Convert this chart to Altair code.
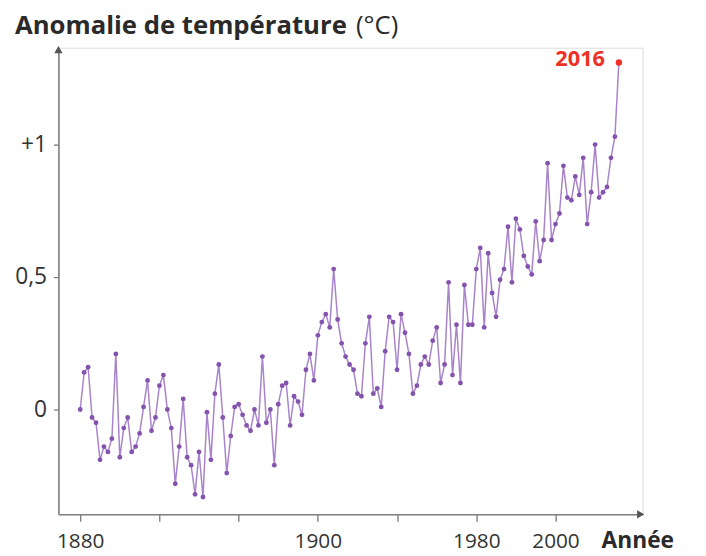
import altair as alt
import pandas as pd

years = list(range(1880, 2017))
anomalies = [
    0.00, 0.14, 0.16, -0.03, -0.05, -0.19, -0.14, -0.16, -0.11, 0.21,
    -0.18, -0.07, -0.03, -0.16, -0.14, -0.09, 0.01, 0.11, -0.08, -0.03,
    0.09, 0.13, 0.00, -0.07, -0.28, -0.14, 0.04, -0.18, -0.21, -0.32,
    -0.16, -0.33, -0.01, -0.19, 0.06, 0.17, -0.03, -0.24, -0.10, 0.01,
    0.02, -0.02, -0.06, -0.08, 0.00, -0.06, 0.20, -0.05, 0.00, -0.21,
    0.02, 0.09, 0.10, -0.06, 0.05, 0.03, -0.02, 0.15, 0.21, 0.11,
    0.28, 0.33, 0.36, 0.31, 0.53, 0.34, 0.25, 0.20, 0.17, 0.15,
    0.06, 0.05, 0.25, 0.35, 0.06, 0.08, 0.01, 0.22, 0.35, 0.33,
    0.15, 0.36, 0.29, 0.21, 0.06, 0.09, 0.17, 0.20, 0.17, 0.26,
    0.31, 0.10, 0.17, 0.48, 0.13, 0.32, 0.10, 0.47, 0.32, 0.32,
    0.53, 0.61, 0.31, 0.59, 0.44, 0.35, 0.49, 0.53, 0.69, 0.48,
    0.72, 0.68, 0.58, 0.54, 0.51, 0.71, 0.56, 0.64, 0.93, 0.64,
    0.70, 0.74, 0.92, 0.80, 0.79, 0.88, 0.81, 0.95, 0.70, 0.82,
    1.00, 0.80, 0.82, 0.84, 0.95, 1.03, 1.31,
]
tick_years = [1880, 1900, 1920, 1940, 1960, 1980, 2000]
tick_labels = ["1880", "", "", "1900", "", "1980", "2000"]
y_ticks = [0, 0.5, 1]
y_labels = ["0", "0,5", "+1"]
highlight_year = 2016

df = pd.DataFrame({"year": years, "value": anomalies})
df_hi = df[df["year"] == highlight_year].assign(label=str(highlight_year))
df_rest = df[df["year"] != highlight_year]

x_label_expr = " : ".join(
    f"datum.value == {v} ? '{t}'" for v, t in zip(tick_years, tick_labels)
) + " : ''"
y_label_expr = " : ".join(
    f"datum.value == {v} ? '{t}'" for v, t in zip(y_ticks, y_labels)
) + " : ''"

W, H = 591, 472
AXIS_COLOR = "#808080"
TEXT_COLOR = "#333333"
LINE_COLOR = "#a884ca"
DOT_COLOR = "#8453ad"
RED = "#ee3124"

x_enc = alt.X(
    "year:Q",
    scale=alt.Scale(domain=[1874.5, 2022.0], nice=False, zero=False),
    axis=alt.Axis(
        values=tick_years,
        labelExpr=x_label_expr,
        grid=False,
        domainColor=AXIS_COLOR,
        domainWidth=1.6,
        tickColor=AXIS_COLOR,
        tickWidth=1.4,
        tickSize=7,
        labelFont="Open Sans",
        labelFontSize=21,
        labelColor=TEXT_COLOR,
        labelBaseline="alphabetic",
        labelPadding=27,
        labelFlush=False,
        labelOverlap=False,
        title="Année",
        titleFont="Open Sans",
        titleFontWeight="bold",
        titleFontSize=23,
        titleColor="#2a2a2a",
        titleAlign="left",
        titleBaseline="alphabetic",
        titleX=549,
        titleY=34,
    ),
)
y_enc = alt.Y(
    "value:Q",
    scale=alt.Scale(domain=[-0.3955, 1.3657], nice=False, zero=False),
    axis=alt.Axis(
        values=y_ticks,
        labelExpr=y_label_expr,
        grid=False,
        domainColor=AXIS_COLOR,
        domainWidth=1.6,
        tickColor=AXIS_COLOR,
        tickWidth=1.4,
        tickSize=5,
        labelFont="Open Sans",
        labelFontSize=23,
        labelColor=TEXT_COLOR,
        labelPadding=7,
        title="",
    ),
)

line = alt.Chart(df).mark_line(color=LINE_COLOR, strokeWidth=1.5).encode(x=x_enc, y=y_enc)
dots = alt.Chart(df_rest).mark_circle(color=DOT_COLOR, size=24, opacity=1).encode(x="year:Q", y="value:Q")
hi_dot = alt.Chart(df_hi).mark_circle(color=RED, size=42, opacity=1).encode(x="year:Q", y="value:Q")
hi_label = alt.Chart(df_hi).mark_text(
    align="right", baseline="alphabetic", dx=-14, dy=4,
    font="Open Sans", fontWeight="bold", fontSize=22, color=RED,
).encode(x="year:Q", y="value:Q", text="label:N")

title_bold = alt.Chart(pd.DataFrame({"t": ["Anomalie de température"]})).mark_text(
    align="left", baseline="alphabetic", font="Open Sans", fontWeight="bold",
    fontSize=26, color="#2a2a2a",
).encode(x=alt.value(-44), y=alt.value(-14), text="t:N")
title_unit = alt.Chart(pd.DataFrame({"t": ["(°C)"]})).mark_text(
    align="left", baseline="alphabetic", font="Open Sans", fontWeight="normal",
    fontSize=26, color="#2a2a2a",
).encode(x=alt.value(301), y=alt.value(-14), text="t:N")

arrow_up = alt.Chart(pd.DataFrame({"a": [0]})).mark_point(
    shape="triangle-up", filled=True, size=70, color="#555555", opacity=1,
).encode(x=alt.value(0), y=alt.value(2))
arrow_right = alt.Chart(pd.DataFrame({"a": [0]})).mark_point(
    shape="triangle-right", filled=True, size=70, color="#555555", opacity=1,
).encode(x=alt.value(W - 2), y=alt.value(H))

chart = alt.layer(
    line, dots, hi_dot, hi_label, title_bold, title_unit, arrow_up, arrow_right
).properties(
    width=W, height=H,
    autosize=alt.AutoSizeParams(type="none"),
    padding={"left": 51, "top": 37, "right": 56, "bottom": 40},
).configure_view(stroke=None).configure(background="white")

chart.save("out.html", embed_options={"renderer": "svg", "actions": False})
